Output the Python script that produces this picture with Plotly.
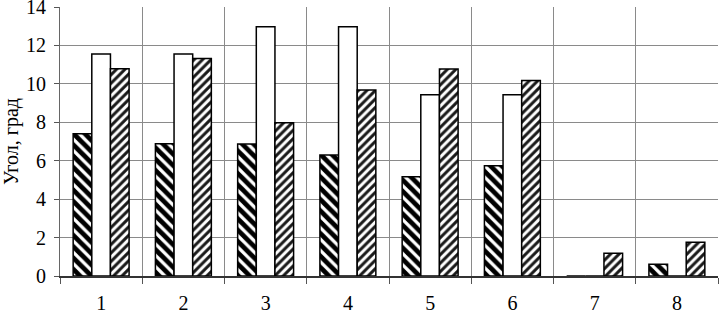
import plotly.graph_objects as go

categories = ["1", "2", "3", "4", "5", "6", "7", "8"]
series_a = [7.40, 6.88, 6.87, 6.30, 5.16, 5.74, 0.0, 0.61]
series_b = [11.55, 11.55, 12.97, 12.97, 9.43, 9.43, 0.0, 0.0]
series_c = [10.78, 11.32, 7.98, 9.68, 10.77, 10.17, 1.18, 1.76]
y_ticks = [0, 2, 4, 6, 8, 10, 12, 14]

font_family = "Times New Roman, Liberation Serif, serif"

fig = go.Figure()
fig.add_trace(go.Bar(
    x=categories, y=series_a,
    marker=dict(color="white", line=dict(color="black", width=1.5),
                pattern=dict(shape="\\", fgcolor="black", bgcolor="white",
                             fgopacity=1, size=8, solidity=0.6)),
))
fig.add_trace(go.Bar(
    x=categories, y=series_b,
    marker=dict(color="white", line=dict(color="black", width=1.5)),
))
fig.add_trace(go.Bar(
    x=categories, y=series_c,
    marker=dict(color="white", line=dict(color="black", width=1.5),
                pattern=dict(shape="/", fgcolor="#1a1a1a", bgcolor="white",
                             fgopacity=1, size=6, solidity=0.5)),
))

fig.update_layout(
    width=721, height=312,
    margin=dict(l=60, r=3, t=7, b=36, autoexpand=False),
    paper_bgcolor="white", plot_bgcolor="white",
    barmode="group", bargap=0.32, bargroupgap=0,
    showlegend=False,
    font=dict(family=font_family, size=20, color="black"),
    xaxis=dict(
        type="category", tickson="boundaries", ticks="outside", ticklen=6,
        tickcolor="#555555", showgrid=True, gridcolor="#8a8a8a", gridwidth=1,
        showline=True, linecolor="#333333", linewidth=1.5,
        ticklabelstandoff=8, tickfont=dict(family=font_family, size=20),
        automargin=False, ticklabeloverflow="allow",
    ),
    yaxis=dict(
        range=[0, 14], tickvals=y_ticks, ticks="outside", ticklen=5,
        tickcolor="#555555", showgrid=True, gridcolor="#8a8a8a", gridwidth=1,
        showline=True, linecolor="#666666", linewidth=1,
        zeroline=False, ticklabelstandoff=4,
        tickfont=dict(family=font_family, size=20),
        automargin=False, ticklabeloverflow="allow",
        title=dict(text="Угол, град", font=dict(family=font_family, size=20), standoff=6),
    ),
)

fig.write_html(
    "out.html",
    config={"displayModeBar": False},
    post_script="document.body.style.margin='0';document.body.style.overflow='hidden';",
)
